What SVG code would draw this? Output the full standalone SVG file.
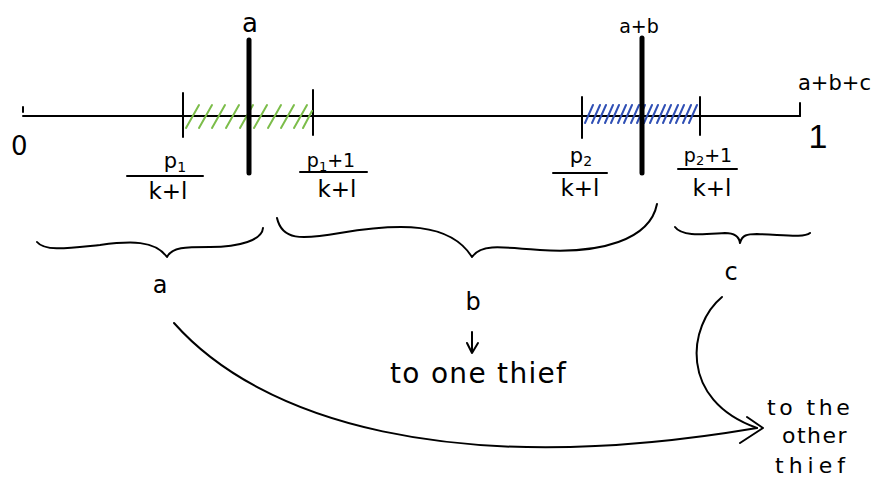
<svg xmlns="http://www.w3.org/2000/svg" width="873" height="492" viewBox="0 0 873 492">
<style>
.ln{stroke:#000;stroke-width:2;fill:none;stroke-linecap:round;stroke-linejoin:round}
.thick{stroke:#000;stroke-width:5;fill:none;stroke-linecap:round}
.g{stroke:#7cbd4a;stroke-width:2;stroke-linecap:round}
.b{stroke:#2f4fb5;stroke-width:2;stroke-linecap:round}
text{font-family:"DejaVu Sans","Liberation Sans",sans-serif;fill:#000}
.m{text-anchor:middle}
</style>
<rect width="873" height="492" fill="#fff"/>
<g id="axis">
<line class="ln" x1="23" y1="116" x2="800" y2="116"/>
<line class="ln" x1="23" y1="107" x2="23" y2="112"/>
<line class="ln" x1="800" y1="103" x2="800" y2="116"/>
<line class="ln" x1="183" y1="93" x2="183" y2="137"/>
<line class="ln" x1="313" y1="90" x2="313" y2="135"/>
<line class="ln" x1="582" y1="97" x2="582" y2="138"/>
<line class="ln" x1="700" y1="97" x2="700" y2="135"/>
<text x="11" y="155" font-size="26">0</text>
<text x="818" y="148" font-size="34" class="m" style="font-family:'Liberation Sans',sans-serif">1</text>
<text x="798" y="90" font-size="21">a+b+c</text>
</g>
<g id="hatch-green">
<line class="g" x1="186" y1="128" x2="199" y2="105"/>
<line class="g" x1="199" y1="128" x2="212" y2="105"/>
<line class="g" x1="212" y1="128" x2="225" y2="105"/>
<line class="g" x1="226" y1="128" x2="239" y2="105"/>
<line class="g" x1="240" y1="128" x2="253" y2="105"/>
<line class="g" x1="254" y1="128" x2="267" y2="105"/>
<line class="g" x1="268" y1="128" x2="281" y2="105"/>
<line class="g" x1="281" y1="128" x2="294" y2="105"/>
<line class="g" x1="294" y1="128" x2="307" y2="105"/>
<line class="g" x1="303" y1="128" x2="312" y2="111"/>
</g>
<g id="hatch-blue">
<line class="b" x1="585" y1="123" x2="593" y2="105"/>
<line class="b" x1="592" y1="123" x2="600" y2="105"/>
<line class="b" x1="598" y1="123" x2="606" y2="105"/>
<line class="b" x1="605" y1="123" x2="613" y2="105"/>
<line class="b" x1="611" y1="123" x2="619" y2="105"/>
<line class="b" x1="618" y1="123" x2="626" y2="105"/>
<line class="b" x1="624" y1="123" x2="632" y2="105"/>
<line class="b" x1="631" y1="123" x2="639" y2="105"/>
<line class="b" x1="637" y1="123" x2="645" y2="105"/>
<line class="b" x1="644" y1="123" x2="652" y2="105"/>
<line class="b" x1="650" y1="123" x2="658" y2="105"/>
<line class="b" x1="657" y1="123" x2="665" y2="105"/>
<line class="b" x1="663" y1="123" x2="671" y2="105"/>
<line class="b" x1="670" y1="123" x2="678" y2="105"/>
<line class="b" x1="676" y1="123" x2="684" y2="105"/>
<line class="b" x1="683" y1="123" x2="691" y2="105"/>
<line class="b" x1="689" y1="123" x2="697" y2="105"/>
</g>
<g id="mark-a">
<line class="thick" x1="249" y1="40" x2="249" y2="173"/>
<text x="250" y="32" font-size="26" class="m">a</text>
</g>
<g id="mark-ab">
<line class="thick" x1="642" y1="38" x2="642" y2="173"/>
<text x="639" y="33" font-size="19" class="m">a+b</text>
</g>
<g id="frac1">
<text x="175" y="168" font-size="21" class="m">p<tspan font-size="14" dy="4">1</tspan></text>
<line class="ln" x1="127" y1="176" x2="203" y2="176"/>
<text x="168" y="199" font-size="23" class="m">k+l</text>
</g>
<g id="frac2">
<text x="331" y="167" font-size="19" class="m">p<tspan font-size="13" dy="4">1</tspan><tspan dy="-4">+1</tspan></text>
<line class="ln" x1="300" y1="172" x2="367" y2="172"/>
<text x="337" y="197" font-size="23" class="m">k+l</text>
</g>
<g id="frac3">
<text x="581" y="163" font-size="21" class="m">p<tspan font-size="14" dy="3">2</tspan></text>
<line class="ln" x1="553" y1="173" x2="607" y2="173"/>
<text x="580" y="196" font-size="23" class="m">k+l</text>
</g>
<g id="frac4">
<text x="708" y="162" font-size="19" class="m">p<tspan font-size="13" dy="3">2</tspan><tspan dy="-3">+1</tspan></text>
<line class="ln" x1="678" y1="169" x2="737" y2="169"/>
<text x="712" y="196" font-size="23" class="m">k+l</text>
</g>
<g id="brace-a">
<path class="ln" d="M37,242 C45,252 70,248 100,245 C130,241 155,240 167,257 C172,247 185,247 210,247 C240,247 262,240 263,228"/>
<text x="160" y="293" font-size="24" class="m">a</text>
</g>
<g id="brace-b">
<path class="ln" d="M277,218 C282,240 300,240 340,233 C400,223 450,222 472,257 C480,245 495,246 540,250 C600,254 650,240 657,204"/>
<text x="473" y="310" font-size="24" class="m">b</text>
</g>
<g id="brace-c">
<path class="ln" d="M675,227 C682,237 705,234 725,233 C734,233 739,236 740,243 C742,235 747,234 757,234 C785,235 804,238 810,233"/>
<text x="731" y="280" font-size="24" class="m">c</text>
</g>
<g id="one-thief">
<text x="390" y="383" font-size="28" letter-spacing="1.3">to one thief</text>
</g>
<g id="other-thief">
<text x="767" y="415" font-size="22" letter-spacing="3.5">to the</text>
<text x="782" y="443" font-size="22" letter-spacing="1.5">other</text>
<text x="775" y="473" font-size="22" letter-spacing="5">thief</text>
</g>
<g id="connectors">
<path class="ln" d="M472,332 L472,353 M467,343 L472,353 L478,343"/>
<path class="ln" d="M174,323 C260,420 450,480 757,428"/>
<path class="ln" d="M722,297 C688,325 678,400 757,428"/>
<polyline class="ln" points="747,417 763,428 740,443"/>
</g>
</svg>
